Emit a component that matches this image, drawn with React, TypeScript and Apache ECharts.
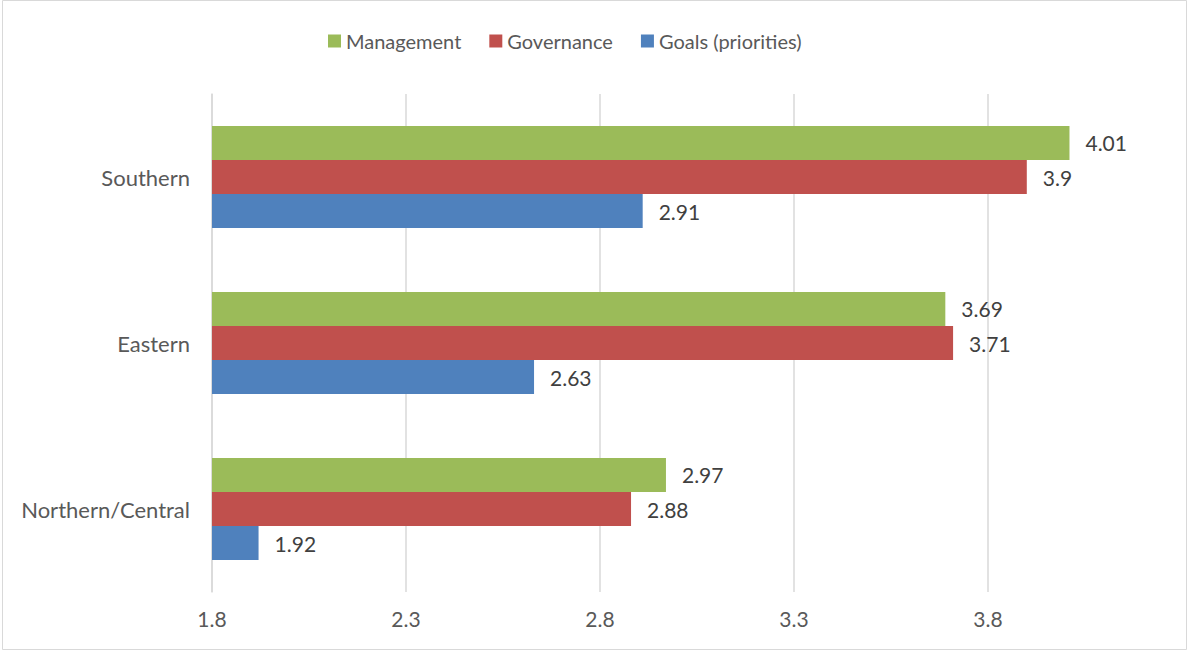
import React, { useEffect, useRef } from "react";
import * as echarts from "echarts";

const categories = ["Northern/Central", "Eastern", "Southern"];
const goals = [1.92, 2.63, 2.91];
const governance = [2.88, 3.71, 3.9];
const management = [2.97, 3.69, 4.01];
const legendOrder = ["Management", "Governance", "Goals (priorities)"];

const FONT = "Lato, 'Open Sans', sans-serif";

export default function App() {
  const ref = useRef<HTMLDivElement>(null);
  useEffect(() => {
    const chart = echarts.init(ref.current!, null, { renderer: "svg" });
    const label = {
      show: true,
      position: "right",
      distance: 16,
      color: "#404040",
      fontSize: 21,
      fontFamily: FONT,
    };
    const common = { type: "bar", barGap: "0%", barCategoryGap: "38.5%", label };
    chart.setOption({
      animation: false,
      backgroundColor: "#ffffff",
      graphic: [
        {
          type: "rect",
          shape: { x: 2.5, y: 0.5, width: 1184, height: 649 },
          style: { fill: "none", stroke: "#d9d9d9", lineWidth: 1 },
          silent: true,
        },
      ],
      legend: {
        data: legendOrder,
        top: 26,
        left: 323,
        itemWidth: 13,
        itemHeight: 13,
        itemGap: 28,
        icon: "rect",
        textStyle: { color: "#595959", fontSize: 20, fontFamily: FONT },
      },
      grid: { left: 212, right: 7, top: 94, bottom: 60, containLabel: false },
      xAxis: {
        type: "value",
        min: 1.8,
        max: 4.3,
        interval: 0.5,
        axisLine: { show: false },
        axisTick: { show: false },
        axisLabel: {
          color: "#595959",
          fontSize: 21,
          fontFamily: FONT,
          margin: 16,
          showMaxLabel: false,
          formatter: (v: number) => v.toFixed(1),
        },
        splitLine: {
          show: true,
          showMaxLine: false,
          lineStyle: { color: "#d9d9d9", width: 1.5 },
        },
      },
      yAxis: {
        type: "category",
        data: categories,
        axisLine: { show: true, lineStyle: { color: "#d9d9d9", width: 1.5 } },
        axisTick: { show: false },
        axisLabel: {
          color: "#595959",
          fontSize: 22,
          fontFamily: FONT,
          margin: 22,
          padding: [0, 0, 5, 0],
        },
      },
      series: [
        { ...common, name: "Management", data: management, itemStyle: { color: "#9BBB59" } },
        { ...common, name: "Governance", data: governance, itemStyle: { color: "#C0504D" } },
        { ...common, name: "Goals (priorities)", data: goals, itemStyle: { color: "#4F81BD" } },
      ],
    });
    return () => chart.dispose();
  }, []);
  return (
    <div
      ref={ref}
      style={{ position: "absolute", left: 0, top: 0, width: 1189, height: 652 }}
    />
  );
}
